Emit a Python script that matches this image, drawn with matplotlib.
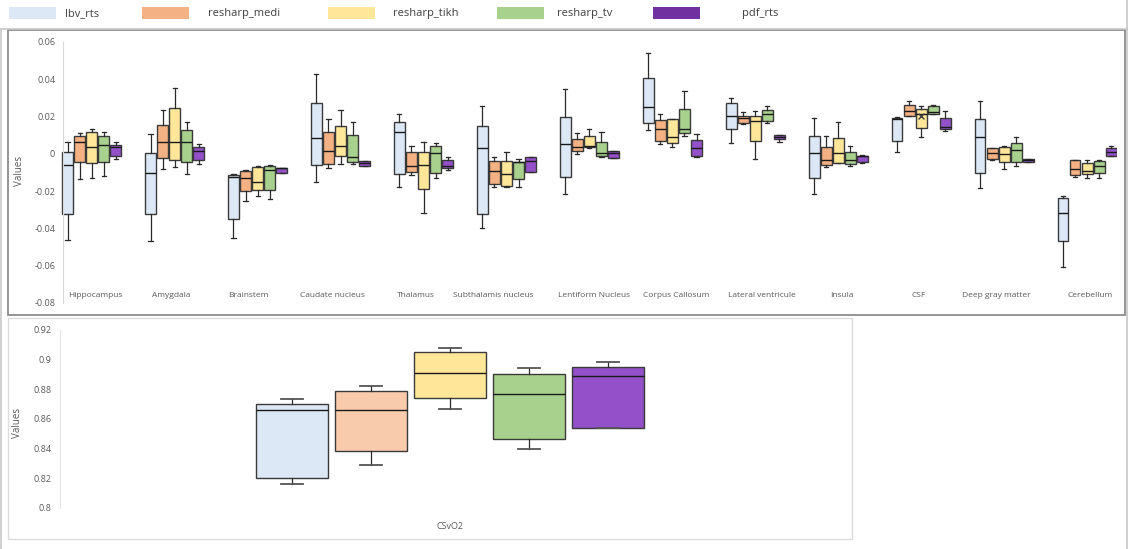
import numpy as np
import matplotlib
matplotlib.use('Agg')
import matplotlib.pyplot as plt
import matplotlib.transforms as mtransforms
from matplotlib.patches import Rectangle
from matplotlib.lines import Line2D

# regions (top panel)
regions = ['Hippocampus', 'Amygdala', 'Brainstem', 'Caudate nucleus', 'Thalamus',
           'Subthalamis nucleus', 'Lentiform Nucleus', 'Corpus Callosum',
           'Lateral ventricule', 'Insula', 'CSF', 'Deep gray matter', 'Cerebellum']

series = ['lbv_rts', 'resharp_medi', 'resharp_tikh', 'resharp_tv', 'pdf_rts']

# per series: low whisker, q1, median, q3, high whisker (one value per region)
lbv_low = [-0.046, -0.047, -0.0453, -0.0152, -0.0179, -0.0399, -0.0217, 0.0128, 0.006, -0.0217, 0.0008, -0.0185, -0.0605]
lbv_q1 = [-0.032, -0.032, -0.035, -0.006, -0.011, -0.0322, -0.0124, 0.0168, 0.0135, -0.0128, 0.0069, -0.0104, -0.0466]
lbv_med = [-0.006, -0.0104, -0.0122, 0.0084, 0.0116, 0.003, 0.0051, 0.025, 0.0203, 0.0003, 0.0187, 0.0092, -0.0319]
lbv_q3 = [0.0012, 0.0007, -0.0115, 0.0275, 0.0173, 0.0151, 0.020, 0.0405, 0.0273, 0.0098, 0.0194, 0.0186, -0.0235]
lbv_high = [0.0065, 0.0105, -0.011, 0.0429, 0.0212, 0.0259, 0.0347, 0.0543, 0.0302, 0.0194, 0.020, 0.0284, -0.0224]

medi_low = [-0.0135, -0.0083, -0.0253, -0.0077, -0.0113, -0.0179, -0.0001, 0.0053, 0.0162, -0.0069, 0.0201, -0.0031, -0.0122]
medi_q1 = [-0.0042, -0.002, -0.020, -0.0054, -0.0095, -0.0161, 0.0014, 0.0069, 0.0164, -0.006, 0.0203, -0.0029, -0.0113]
medi_med = [0.0062, 0.0062, -0.0131, 0.0017, -0.0065, -0.009, 0.0037, 0.0135, 0.0191, -0.0033, 0.023, 0.0003, -0.0083]
medi_q3 = [0.0096, 0.0157, -0.009, 0.0119, 0.0008, -0.0038, 0.0078, 0.018, 0.0205, 0.0039, 0.0262, 0.003, -0.0033]
medi_high = [0.011, 0.0234, -0.0086, 0.0186, 0.0044, -0.0015, 0.011, 0.0212, 0.0223, 0.0098, 0.0284, 0.0032, -0.0031]

tikh_low = [-0.013, -0.0072, -0.0224, -0.0056, -0.0319, -0.0179, 0.003, 0.0035, -0.0027, -0.0047, 0.0089, -0.0081, -0.0128]
tikh_q1 = [-0.005, -0.0033, -0.0194, -0.001, -0.019, -0.017, 0.0035, 0.0057, 0.0071, -0.0047, 0.0137, -0.0045, -0.011]
tikh_med = [0.0039, 0.0062, -0.0149, 0.0044, -0.006, -0.0106, 0.0044, 0.0092, 0.0178, 0.0003, 0.0214, -0.0001, -0.0092]
tikh_q3 = [0.0116, 0.0246, -0.0069, 0.0151, 0.0008, -0.0038, 0.0098, 0.0186, 0.0203, 0.0084, 0.0239, 0.0035, -0.005]
tikh_high = [0.0135, 0.0352, -0.0065, 0.0234, 0.0062, 0.0008, 0.0132, 0.0186, 0.023, 0.0173, 0.0259, 0.0044, -0.0033]

tv_low = [-0.012, -0.0106, -0.0242, -0.0056, -0.0131, -0.0179, -0.0018, 0.0098, 0.0167, -0.0063, 0.0212, -0.0065, -0.0128]
tv_q1 = [-0.0042, -0.0042, -0.0194, -0.0045, -0.0101, -0.0135, -0.001, 0.011, 0.0177, -0.0056, 0.0214, -0.0045, -0.0104]
tv_med = [0.0048, 0.0062, -0.0086, -0.0018, 0.0003, -0.0042, 0.0003, 0.0134, 0.0212, -0.0033, 0.0223, 0.0021, -0.0065]
tv_q3 = [0.0096, 0.0127, -0.0065, 0.0101, 0.0044, -0.0042, 0.0065, 0.0239, 0.0236, 0.0008, 0.0259, 0.006, -0.0038]
tv_high = [0.0116, 0.0173, -0.0061, 0.0173, 0.0057, -0.0027, 0.0116, 0.0337, 0.0259, 0.0042, 0.0262, 0.0092, -0.0033]

pdf_low = [-0.0027, -0.0056, -0.0101, -0.0067, -0.0086, -0.0095, -0.0024, -0.0015, 0.0065, -0.0047, 0.0124, -0.0042, -0.001]
pdf_q1 = [-0.0011, -0.0033, -0.0101, -0.0065, -0.0077, -0.0095, -0.0024, -0.001, 0.0078, -0.0042, 0.0132, -0.0042, -0.001]
pdf_med = [0.0035, 0.0016, -0.0074, -0.005, -0.0065, -0.0036, 0.0003, 0.0033, 0.0092, -0.0013, 0.0146, -0.0035, 0.0012]
pdf_q3 = [0.0048, 0.0035, -0.0074, -0.0038, -0.0033, -0.0018, 0.0014, 0.0075, 0.0101, -0.001, 0.0191, -0.0029, 0.003]
pdf_high = [0.0062, 0.0055, -0.0074, -0.0037, -0.0018, -0.0015, 0.0018, 0.0105, 0.0101, -0.0008, 0.023, -0.0029, 0.0042]

csf_tikh_mean = 0.0203

# CSvO2 (bottom panel), order = series
csvo2_low = [0.816, 0.8286, 0.8669, 0.8397, 0.854]
csvo2_q1 = [0.8199, 0.838, 0.8739, 0.8464, 0.854]
csvo2_med = [0.8657, 0.8662, 0.8908, 0.8766, 0.8887]
csvo2_q3 = [0.8698, 0.879, 0.9052, 0.890, 0.8952]
csvo2_high = [0.8734, 0.8824, 0.9076, 0.8941, 0.8982]

top_colors = ['#dce8f5', '#f4b183', '#ffe699', '#a9d18e', '#9350c9']
bot_colors = ['#dce8f5', '#f8cbad', '#ffe699', '#a9d18e', '#9350c9']
legend_colors = ['#dce8f5', '#f4b183', '#ffe699', '#a9d18e', '#7030a0']

# excel places the category labels a little off-centre (pixels)
label_shift = [4, -3, -9, -8, -8, -13, 5, 4, 7, 4, -3, -8, 3]

W, H = 1128, 549
fig = plt.figure(figsize=(W / 100, H / 100), dpi=100)
font = ['Open Sans', 'DejaVu Sans']
grey = '#595959'


def fx(px):
    return px / W


def fy(py):
    return 1 - py / H


def make_stats(lo, q1, med, q3, hi):
    return [dict(whislo=a, q1=b, med=c, q3=d, whishi=e, fliers=[])
            for a, b, c, d, e in zip(lo, q1, med, q3, hi)]


def fmt(v):
    v = round(v, 3)
    if v == 0:
        return '0'
    return ('%g' % v)


# frames / separators
fig.add_artist(Line2D([0, 1], [fy(29), fy(29)], color='#c8c8c8', lw=1.2))
fig.add_artist(Line2D([fx(1), fx(1)], [0, fy(29)], color='#c8c8c8', lw=1.2))
fig.add_artist(Line2D([fx(1127), fx(1127)], [0, 1], color='#c8c8c8', lw=1.2))
fig.add_artist(Rectangle((fx(8), fy(315)), fx(1125) - fx(8), fy(30) - fy(315),
                         fill=False, edgecolor='#8c8c8c', lw=1.3))
fig.add_artist(Rectangle((fx(8), fy(539)), fx(852) - fx(8), fy(318) - fy(539),
                         fill=False, edgecolor='#dcdcdc', lw=1.0))

# legend
leg_patch_x = [9, 142, 328, 497, 653]
leg_text_x = [65, 208, 393, 557, 742]
for name, c, px, tx in zip(series, legend_colors, leg_patch_x, leg_text_x):
    fig.add_artist(Rectangle((fx(px), fy(19)), 47 / W, 12 / H, facecolor=c, edgecolor='none'))
    fig.text(fx(tx), fy(13.5), name, fontsize=8, color='#404040', family=font, va='center')

# top panel
ax = fig.add_axes([fx(61), fy(303), fx(1117) - fx(61), fy(42) - fy(303)])
all_stats = [
    (lbv_low, lbv_q1, lbv_med, lbv_q3, lbv_high),
    (medi_low, medi_q1, medi_med, medi_q3, medi_high),
    (tikh_low, tikh_q1, tikh_med, tikh_q3, tikh_high),
    (tv_low, tv_q1, tv_med, tv_q3, tv_high),
    (pdf_low, pdf_q1, pdf_med, pdf_q3, pdf_high),
]
base = np.arange(len(regions))
step = 0.1455
for k, (st, c) in enumerate(zip(all_stats, top_colors)):
    ax.bxp(make_stats(*st), positions=base + (k - 2) * step, widths=0.13,
           showfliers=False, patch_artist=True, capwidths=0.05,
           boxprops=dict(facecolor=c, edgecolor='#3a3a3a', lw=1.0),
           medianprops=dict(color='#1a1a1a', lw=1.0),
           whiskerprops=dict(color='#2a2a2a', lw=0.9),
           capprops=dict(color='#2a2a2a', lw=0.9))
csf_i = regions.index('CSF')
ax.scatter([csf_i], [csf_tikh_mean], marker='x', s=18, color='#404040', lw=1.0, zorder=5)

for s in ['top', 'right', 'bottom']:
    ax.spines[s].set_visible(False)
ax.spines['left'].set_color('#d9d9d9')
ax.spines['left'].set_position(('data', -0.34))
ax.set_xlim(-0.37, 12.36)
ax.set_ylim(-0.08, 0.06)
yt = np.arange(-0.08, 0.0601, 0.02)
ax.set_yticks(yt)
ax.set_yticklabels([fmt(v) for v in yt], fontsize=6.5, color=grey, family=font)
ax.set_xticks(base)
ax.set_xticklabels(regions, fontsize=6, color=grey, family=font)
ax.tick_params(axis='x', length=0, pad=-8)
ax.tick_params(axis='y', length=0, pad=6)
for lab, dx in zip(ax.get_xticklabels(), label_shift):
    off = mtransforms.ScaledTranslation(dx / 100, 0, fig.dpi_scale_trans)
    lab.set_transform(lab.get_transform() + off)
ax.patch.set_alpha(0)
fig.text(fx(20), fy(171), 'Values', rotation=90, fontsize=7, color=grey,
         family=font, ha='center', va='center')

# bottom panel
ax2 = fig.add_axes([fx(60), fy(507.7), fx(840) - fx(60), fy(330) - fy(507.7)])
bstats = make_stats(csvo2_low, csvo2_q1, csvo2_med, csvo2_q3, csvo2_high)
for k, (s, c) in enumerate(zip(bstats, bot_colors)):
    ax2.bxp([s], positions=[k - 2], widths=0.91, showfliers=False, patch_artist=True,
            capwidths=0.28,
            boxprops=dict(facecolor=c, edgecolor='#3a3a3a', lw=1.0),
            medianprops=dict(color='#1a1a1a', lw=1.0),
            whiskerprops=dict(color='#2a2a2a', lw=0.9),
            capprops=dict(color='#555555', lw=1.3))
ax2.set_xlim(-4.94, 4.94)
ax2.set_ylim(0.8, 0.92)
yt2 = np.arange(0.8, 0.9201, 0.02)
ax2.set_yticks(yt2)
ax2.set_yticklabels([fmt(v) for v in yt2], fontsize=6.5, color=grey, family=font)
ax2.set_xticks([0])
ax2.set_xticklabels(['CSvO2'], fontsize=6.5, color=grey, family=font)
ax2.tick_params(axis='x', length=0, pad=10)
ax2.tick_params(axis='y', length=0, pad=6)
for s in ['top', 'right', 'bottom']:
    ax2.spines[s].set_visible(False)
ax2.spines['left'].set_color('#e3e3e3')
ax2.patch.set_alpha(0)
fig.text(fx(18), fy(423), 'Values', rotation=90, fontsize=7, color=grey,
         family=font, ha='center', va='center')

fig.savefig('out.png', dpi=100)
